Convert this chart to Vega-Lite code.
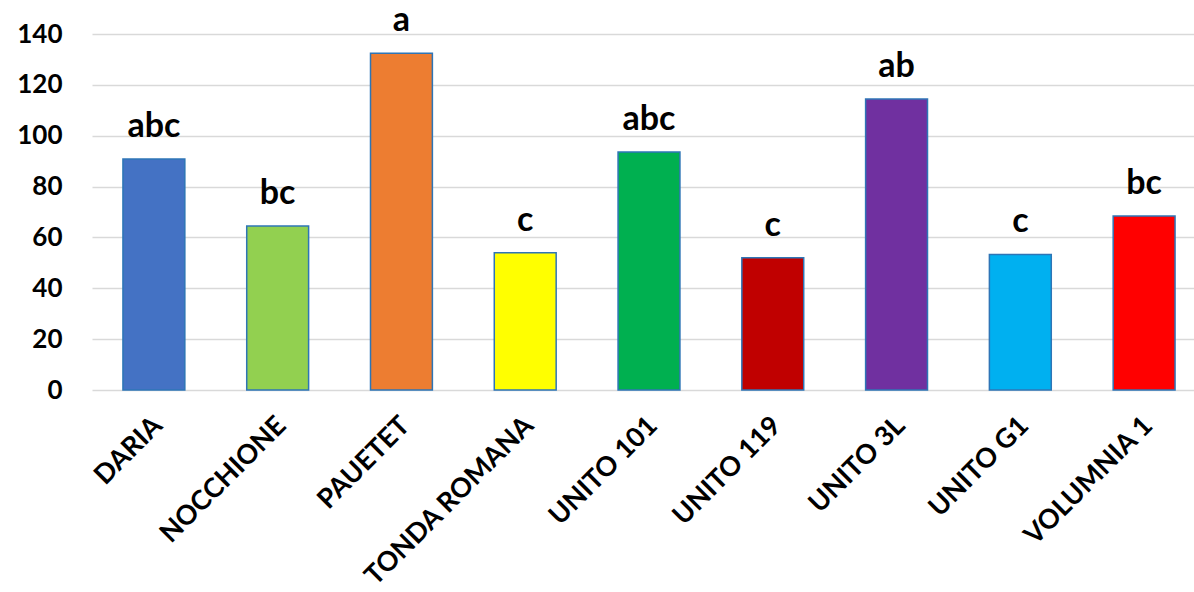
{
  "$schema": "https://vega.github.io/schema/vega-lite/v6.json",
  "width": 1102,
  "height": 356,
  "autosize": {"type": "none"},
  "padding": {"left": 92, "top": 34, "right": 0, "bottom": 202},
  "background": "white",
  "config": {"view": {"stroke": null}, "font": "Lato"},
  "data": {
    "values": [
      {"cultivar": "DARIA", "value": 90.8, "group": "abc", "color": "#4472C4"},
      {"cultivar": "NOCCHIONE", "value": 64.5, "group": "bc", "color": "#92D050"},
      {"cultivar": "PAUETET", "value": 132.4, "group": "a", "color": "#ED7D31"},
      {"cultivar": "TONDA ROMANA", "value": 54.0, "group": "c", "color": "#FFFF00"},
      {"cultivar": "UNITO 101", "value": 93.6, "group": "abc", "color": "#00B050"},
      {"cultivar": "UNITO 119", "value": 52.0, "group": "c", "color": "#C00000"},
      {"cultivar": "UNITO 3L", "value": 114.4, "group": "ab", "color": "#7030A0"},
      {"cultivar": "UNITO G1", "value": 53.3, "group": "c", "color": "#00B0F0"},
      {"cultivar": "VOLUMNIA 1", "value": 68.4, "group": "bc", "color": "#FF0000"}
    ]
  },
  "encoding": {
    "x": {
      "field": "cultivar",
      "type": "nominal",
      "sort": null,
      "scale": {"range": [0, 1114], "paddingInner": 0.5, "paddingOuter": 0.25},
      "axis": {
        "title": null,
        "labelAngle": -45,
        "labelAlign": "right",
        "labelBaseline": "top",
        "labelFont": "Lato",
        "labelFontWeight": "bold",
        "labelFontSize": 27,
        "labelColor": "black",
        "labelPadding": 22,
        "labelOffset": -5,
        "domain": false,
        "ticks": false,
        "labelOverlap": false,
        "labelLimit": 0
      }
    },
    "y": {
      "field": "value",
      "type": "quantitative",
      "scale": {"domain": [0, 140], "nice": false},
      "axis": {
        "title": null,
        "values": [0, 20, 40, 60, 80, 100, 120, 140],
        "labelFont": "Lato",
        "labelFontWeight": "bold",
        "labelFontSize": 26,
        "labelColor": "black",
        "labelPadding": 30,
        "domain": false,
        "ticks": false,
        "grid": true,
        "gridColor": "#D9D9D9",
        "gridWidth": 1.5
      }
    }
  },
  "layer": [
    {
      "mark": {"type": "bar", "stroke": "#2E75B6", "strokeWidth": 1.5},
      "encoding": {
        "color": {"field": "color", "type": "nominal", "scale": null, "legend": null}
      }
    },
    {
      "mark": {"type": "text", "font": "Lato", "fontWeight": "bold", "fontSize": 34, "baseline": "alphabetic", "dy": -22, "color": "black"},
      "encoding": {"text": {"field": "group"}}
    }
  ]
}
